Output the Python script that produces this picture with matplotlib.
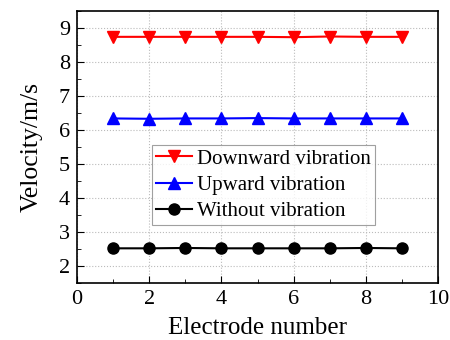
import matplotlib
matplotlib.use("Agg")
import matplotlib.pyplot as plt
from matplotlib.ticker import MultipleLocator

plt.rcParams['font.family'] = ['Liberation Serif', 'DejaVu Serif']
plt.rcParams['mathtext.fontset'] = 'stix'

electrode = [1, 2, 3, 4, 5, 6, 7, 8, 9]
downward = [8.74, 8.74, 8.74, 8.74, 8.74, 8.73, 8.75, 8.74, 8.74]
upward = [6.34, 6.33, 6.34, 6.34, 6.35, 6.34, 6.34, 6.34, 6.34]
without = [2.52, 2.52, 2.53, 2.52, 2.52, 2.52, 2.52, 2.53, 2.52]

fig = plt.figure(figsize=(4.5, 3.4), dpi=100)
ax = fig.add_axes([77/450, 1-283/340, (438-77)/450, (283-11)/340])

ax.plot(electrode, downward, color='red', marker='v', markersize=9, lw=1.5, label='Downward vibration')
ax.plot(electrode, upward, color='blue', marker='^', markersize=9, lw=1.5, label='Upward vibration')
ax.plot(electrode, without, color='black', marker='o', markersize=8, lw=1.5, label='Without vibration')

ax.set_xlim(0, 10)
ax.set_ylim(1.5, 9.5)
ax.xaxis.set_major_locator(MultipleLocator(2))
ax.xaxis.set_minor_locator(MultipleLocator(1))
ax.yaxis.set_major_locator(MultipleLocator(1))
ax.yaxis.set_minor_locator(MultipleLocator(0.5))
ax.tick_params(which='both', direction='in', labelsize=16, top=False, right=False)
ax.tick_params(which='major', length=5, pad=5)
ax.tick_params(which='minor', length=3)
ax.grid(True, which='major', linestyle=':', color='#bbbbbb', lw=0.8)
for s in ax.spines.values():
    s.set_linewidth(1.2)

ax.set_xlabel('Electrode number', fontsize=18, labelpad=6)
ax.set_ylabel('Velocity/m/s', fontsize=18.5, labelpad=12)

leg = ax.legend(loc='upper left', bbox_to_anchor=((152-77)/361, 1-(145-11)/272),
                fontsize=15, frameon=True, fancybox=False, edgecolor='#888888',
                handlelength=1.7, borderpad=0.2, labelspacing=0.32, handletextpad=0.25,
                borderaxespad=0)
leg.get_frame().set_linewidth(0.8)

fig.savefig('out.png', dpi=100)
